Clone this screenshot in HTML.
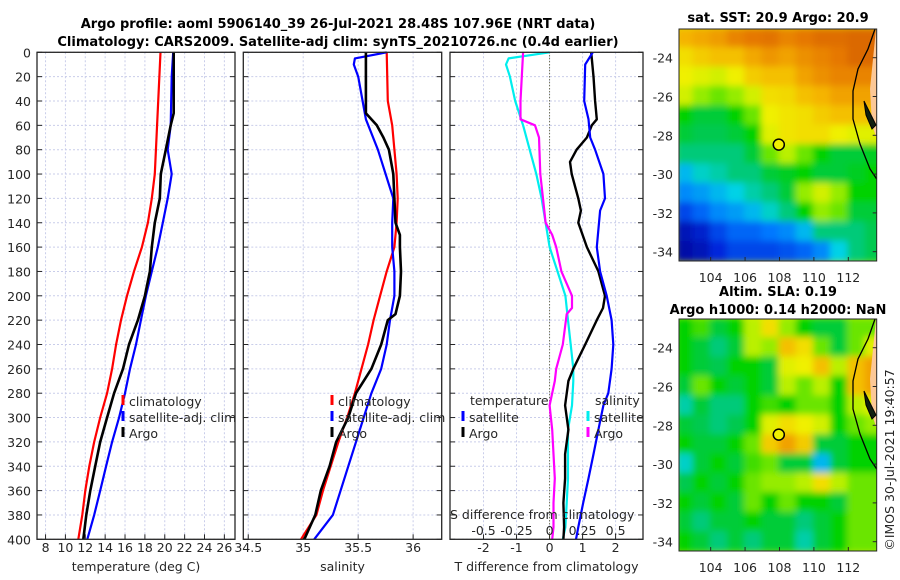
<!DOCTYPE html>
<html><head><meta charset="utf-8">
<style>
html,body{margin:0;padding:0;background:#fff;}
svg{display:block;font-family:"DejaVu Sans","Liberation Sans",sans-serif;}
.tk{font-size:12.5px;fill:#262626;}
.ttl{font-size:13px;font-weight:bold;fill:#000;}
.lg{font-size:12.5px;fill:#262626;}
</style></head>
<body>
<svg id="fig" width="900" height="580" viewBox="0 0 900 580">
<defs>
<filter id="blur" x="-5%" y="-5%" width="110%" height="110%"><feGaussianBlur stdDeviation="3.5"/></filter>
<clipPath id="clipM1"><rect x="679" y="29" width="198" height="232"/></clipPath>
<clipPath id="clipM2"><rect x="679" y="319" width="198" height="232"/></clipPath>
</defs>
<text class="ttl" x="338" y="28" text-anchor="middle">Argo profile: aoml 5906140_39 26-Jul-2021 28.48S 107.96E (NRT data)</text>
<text class="ttl" x="338" y="46" text-anchor="middle">Climatology: CARS2009. Satellite-adj clim: synTS_20210726.nc (0.4d earlier)</text>
<text class="ttl" x="778" y="22" text-anchor="middle">sat. SST: 20.9 Argo: 20.9</text>
<text class="ttl" x="778" y="296" text-anchor="middle">Altim. SLA: 0.19</text>
<text class="ttl" x="778" y="314" text-anchor="middle">Argo h1000: 0.14 h2000: NaN</text>
<text class="tk" transform="translate(894,460) rotate(-90)" text-anchor="middle">©IMOS 30-Jul-2021 19:40:57</text>
<g id="g"></g>
</svg>
<script>
// ---- depth axis ----
const depthTicks = [0,20,40,60,80,100,120,140,160,180,200,220,240,260,280,300,320,340,360,380,400];
// ---- temperature panel ----
const tempTicks = [8,10,12,14,16,18,20,22,24,26];
const tClimDepth = [0,100,120,140,160,180,200,220,240,260,280,300,320,340,360,380,400];
const tClim = [19.57,19.0,18.7,18.3,17.7,16.9,16.2,15.6,15.1,14.7,14.2,13.5,12.9,12.4,12.0,11.7,11.3];
const tSatDepth = [0,20,60,80,100,120,140,160,180,200,220,240,260,280,300,320,340,360,380,400];
const tSat = [20.85,20.7,20.6,20.3,20.7,20.3,19.8,19.3,18.7,18.1,17.6,17.1,16.5,16.0,15.4,14.7,14.1,13.5,12.9,12.2];
const tArgoDepth = [0,20,50,60,80,100,120,140,160,180,200,220,240,260,280,300,320,340,360,380,400];
const tArgo = [20.9,20.9,20.9,20.6,20.1,19.6,19.5,19.0,18.7,18.5,18.0,17.3,16.4,15.8,14.9,14.2,13.5,13.0,12.5,12.1,11.8];
// ---- salinity panel ----
const salTicks = [34.5,35,35.5,36];
const salTickLabels = ["34.5","35","35.5","36"];
const sClimDepth = [0,40,60,80,100,120,140,160,180,200,220,240,260,280,300,320,340,360,380,400];
const sClim = [35.76,35.77,35.81,35.83,35.85,35.86,35.85,35.83,35.76,35.70,35.64,35.59,35.53,35.47,35.40,35.32,35.25,35.18,35.12,34.98];
const sSatDepth = [0,5,10,20,40,55,80,100,120,140,160,180,200,220,240,260,280,300,320,340,360,380,400];
const sSat = [35.76,35.47,35.46,35.50,35.54,35.57,35.68,35.75,35.82,35.81,35.81,35.83,35.83,35.79,35.76,35.71,35.62,35.55,35.48,35.41,35.34,35.27,35.10];
const sArgoDepth = [0,20,50,60,70,80,100,120,140,150,160,180,200,215,220,240,260,280,300,320,340,360,380,400];
const sArgo = [35.57,35.57,35.57,35.67,35.73,35.78,35.82,35.83,35.84,35.88,35.88,35.89,35.88,35.84,35.77,35.71,35.62,35.48,35.41,35.30,35.24,35.16,35.11,35.01];
// ---- difference panel ----
const tDiffTicks = [-2,-1,0,1,2];
const sDiffTicks = [-0.5,-0.25,0,0.25,0.5];
const sDiffTickLabels = ["-0.5","-0.25","0","0.25","0.5"];
const dTSatDepth = [0,10,40,55,70,80,100,120,130,160,180,200,220,240,260,280,290,310,330,350,370,390,400];
const dTSat = [1.31,1.08,1.05,1.18,1.23,1.38,1.63,1.68,1.53,1.43,1.53,1.73,1.88,1.93,1.88,1.78,1.63,1.48,1.33,1.18,1.02,0.87,0.80];
const dTArgoDepth = [0,20,40,55,60,70,80,90,100,120,130,140,160,180,200,210,220,240,260,270,290,310,330,350,370,390,400];
const dTArgo = [1.26,1.33,1.38,1.43,1.28,1.13,0.82,0.62,0.67,0.87,0.95,0.87,1.13,1.48,1.68,1.62,1.43,1.08,0.72,0.57,0.47,0.57,0.47,0.47,0.42,0.44,0.42];
const dSSatDepth = [0,5,10,20,40,60,80,100,120,140,160,180,200,220,240,260,270,290,310,330,350,370,390,400];
const dSSat = [0,-0.31,-0.33,-0.30,-0.26,-0.20,-0.15,-0.10,-0.06,-0.03,0.0,0.06,0.12,0.14,0.16,0.18,0.18,0.17,0.14,0.14,0.14,0.13,0.12,0.10];
const dSArgoDepth = [0,20,40,55,60,70,100,120,140,150,160,180,200,210,215,240,260,270,290,310,330,350,370,390,400];
const dSArgo = [-0.20,-0.21,-0.22,-0.22,-0.11,-0.08,-0.07,-0.05,-0.03,0.02,0.05,0.09,0.17,0.17,0.13,0.10,0.05,0.04,0.0,0.02,0.03,0.04,0.03,0.03,0.02];
// ---- maps ----
const mapLonTicks = [104,106,108,110,112];
const mapLatTicks = [-24,-26,-28,-30,-32,-34];
const gridLon = [102.5,103.5,104.5,105.5,106.5,107.5,108.5,109.5,110.5,111.5,112.5,113.5];
const gridLat = [-23,-24,-25,-26,-27,-28,-29,-30,-31,-32,-33,-34];
const sstGrid = [
[0.82,0.84,0.86,0.90,0.92,0.93,0.90,0.92,0.94,0.94,0.95,0.95],
[0.75,0.78,0.80,0.80,0.84,0.87,0.85,0.88,0.90,0.92,0.95,0.95],
[0.72,0.70,0.68,0.72,0.78,0.80,0.80,0.85,0.88,0.90,0.90,0.90],
[0.68,0.62,0.60,0.62,0.68,0.75,0.76,0.80,0.82,0.85,0.85,0.85],
[0.55,0.50,0.50,0.55,0.60,0.72,0.74,0.75,0.78,0.80,0.80,0.80],
[0.50,0.48,0.48,0.50,0.55,0.70,0.74,0.75,0.75,0.72,0.70,0.70],
[0.45,0.45,0.45,0.45,0.50,0.60,0.65,0.60,0.55,0.50,0.50,0.52],
[0.35,0.40,0.42,0.45,0.45,0.50,0.52,0.55,0.50,0.50,0.52,0.55],
[0.30,0.32,0.35,0.38,0.42,0.45,0.50,0.62,0.68,0.62,0.55,0.55],
[0.20,0.25,0.30,0.32,0.35,0.40,0.45,0.55,0.62,0.60,0.50,0.50],
[0.08,0.12,0.20,0.25,0.25,0.28,0.30,0.35,0.45,0.45,0.45,0.48],
[0.05,0.08,0.15,0.20,0.20,0.20,0.22,0.25,0.30,0.38,0.45,0.48]];
const slaGrid = [
[0.55,0.58,0.50,0.55,0.65,0.75,0.62,0.55,0.50,0.50,0.60,0.60],
[0.55,0.50,0.45,0.50,0.65,0.62,0.80,0.75,0.60,0.50,0.60,0.70],
[0.55,0.50,0.48,0.55,0.55,0.50,0.70,0.72,0.80,0.65,0.80,0.85],
[0.50,0.60,0.55,0.50,0.55,0.50,0.65,0.60,0.65,0.55,0.80,0.85],
[0.42,0.50,0.45,0.45,0.55,0.58,0.55,0.60,0.60,0.55,0.65,0.70],
[0.50,0.48,0.45,0.48,0.55,0.70,0.75,0.72,0.68,0.55,0.60,0.62],
[0.55,0.50,0.50,0.55,0.60,0.78,0.85,0.78,0.50,0.50,0.55,0.55],
[0.40,0.50,0.55,0.50,0.58,0.60,0.50,0.50,0.35,0.50,0.55,0.55],
[0.48,0.55,0.50,0.55,0.60,0.62,0.62,0.65,0.75,0.65,0.60,0.60],
[0.55,0.50,0.55,0.50,0.60,0.55,0.60,0.55,0.55,0.50,0.60,0.60],
[0.50,0.45,0.50,0.50,0.55,0.50,0.50,0.45,0.50,0.55,0.60,0.60],
[0.55,0.50,0.45,0.50,0.45,0.50,0.50,0.42,0.50,0.55,0.60,0.60]];
const argoLon = [107.96];
const argoLat = [-28.48];

const NS='http://www.w3.org/2000/svg';
const G=document.getElementById('g');
function mk(tag,attrs,parent){const e=document.createElementNS(NS,tag);for(const k in attrs)e.setAttribute(k,attrs[k]);(parent||G).appendChild(e);return e;}
function txt(s,x,y,cls,anchor,parent){const e=mk('text',{x:x,y:y,class:cls,'text-anchor':anchor||'middle'},parent);e.textContent=s;return e;}

const Y0=52.3,Y1=539.3;
const yD=d=>Y0+(d/400)*(Y1-Y0);

function panel(name,x0,x1,xmin,xmax,ticks,labels,xlabel,labY){
  const sx=v=>x0+(v-xmin)/(xmax-xmin)*(x1-x0);
  const g=mk('g',{});
  
  
  depthTicks.forEach(d=>{mk('line',{x1:x0,x2:x1,y1:yD(d),y2:yD(d),stroke:'#c9cdea','stroke-width':1,'stroke-dasharray':'2,2'},g);});
  ticks.forEach(t=>{mk('line',{x1:sx(t),x2:sx(t),y1:Y0,y2:Y1,stroke:'#c9cdea','stroke-width':1,'stroke-dasharray':'2,2'},g);});
  depthTicks.forEach(d=>{mk('line',{x1:x0,x2:x0+5,y1:yD(d),y2:yD(d),stroke:'#262626'},g);mk('line',{x1:x1,x2:x1-5,y1:yD(d),y2:yD(d),stroke:'#262626'},g);});
  ticks.forEach((t,i)=>{
    mk('line',{x1:sx(t),x2:sx(t),y1:Y1,y2:Y1-5,stroke:'#262626'},g);
    if(labels){const e=txt(labels[i],sx(t),labY,'tk','middle',g);}
  });
  if(xlabel){const e=txt(xlabel,(x0+x1)/2,571,'tk','middle',g);}
  return {sx,g};
}
function line(p,depths,vals,color,w,name){
  const pts=depths.map((d,i)=>p.sx(vals[i]).toFixed(1)+','+yD(d).toFixed(1)).join(' ');
  const e=mk('polyline',{points:pts,fill:'none',stroke:color,'stroke-width':w,'stroke-linejoin':'round'},p.g);
  
  
  return e;
}
function frame(x0,x1,g){mk('rect',{x:x0,y:Y0,width:x1-x0,height:Y1-Y0,fill:'none',stroke:'#262626','stroke-width':1.3},g);}
function legendItem(g,x,y,color,label,name){
  mk('line',{x1:x,x2:x,y1:y-7,y2:y+3,stroke:color,'stroke-width':3},g);
  const e=txt(label,x+6,y+4,'lg','start',g);
  
  
}

depthTicks.forEach(d=>{const e=txt(String(d),31,yD(d)+5,'tk','end');});

// Panel 1
const p1=panel('temperature',37,235,7.14,27.07,tempTicks,tempTicks.map(String),'temperature (deg C)',552);
line(p1,tClimDepth,tClim,'#ff0000',2.2,'temperature-climatology-line');
line(p1,tSatDepth,tSat,'#0000ff',2.2,'temperature-satellite-line');
line(p1,tArgoDepth,tArgo,'#000000',2.6,'temperature-argo-line');
frame(37,235,p1.g);
legendItem(p1.g,123,402,'#ff0000','climatology','legend-climatology');
legendItem(p1.g,123,418,'#0000ff','satellite-adj. clim','legend-satellite');
legendItem(p1.g,123,434,'#000000','Argo','legend-argo');

// Panel 2
const p2=panel('salinity',243.3,441.7,34.455,36.26,salTicks,salTickLabels,'salinity',552);
line(p2,sClimDepth,sClim,'#ff0000',2.2,'salinity-climatology-line');
line(p2,sSatDepth,sSat,'#0000ff',2.2,'salinity-satellite-line');
line(p2,sArgoDepth,sArgo,'#000000',2.6,'salinity-argo-line');
frame(243.3,441.7,p2.g);
legendItem(p2.g,332,402,'#ff0000','climatology','legend-climatology');
legendItem(p2.g,332,418,'#0000ff','satellite-adj. clim','legend-satellite');
legendItem(p2.g,332,434,'#000000','Argo','legend-argo');

// Panel 3
const p3=panel('difference',450,643,-3.015,2.83,tDiffTicks,tDiffTicks.map(String),'T difference from climatology',552);
const p3s={sx:v=>p3.sx(v*4),g:p3.g};
mk('line',{x1:p3.sx(0),x2:p3.sx(0),y1:Y0,y2:Y1,stroke:'#4d4d20','stroke-width':1,'stroke-dasharray':'1,2'},p3.g);
line(p3s,dSSatDepth,dSSat,'#00eeee',2.2,'salinity-diff-satellite-line');
line(p3s,dSArgoDepth,dSArgo,'#ff00ff',2.2,'salinity-diff-argo-line');
line(p3,dTArgoDepth,dTArgo,'#000000',2.4,'temperature-diff-argo-line');
line(p3,dTSatDepth,dTSat,'#0000ff',2.2,'temperature-diff-satellite-line');
frame(450,643,p3.g);
sDiffTicks.forEach((t,i)=>{const e=txt(sDiffTickLabels[i],p3s.sx(t),535,'tk','middle',p3.g);});
{const e=txt('S difference from climatology',450,519,'tk','start',p3.g);}
{const e=txt('temperature',470,405,'lg','start',p3.g);}
{const e=txt('salinity',595,405,'lg','start',p3.g);}
legendItem(p3.g,463,418,'#0000ff','satellite','legend-temp-satellite');
legendItem(p3.g,463,434,'#000000','Argo','legend-temp-argo');
legendItem(p3.g,588,418,'#00eeee','satellite','legend-sal-satellite');
legendItem(p3.g,588,434,'#ff00ff','Argo','legend-sal-argo');

const cmap=[[0,[0,0,140]],[0.15,[0,40,220]],[0.28,[0,120,255]],[0.38,[0,210,230]],[0.47,[0,200,90]],[0.55,[0,210,0]],[0.63,[170,240,0]],[0.72,[240,240,0]],[0.82,[245,180,0]],[0.92,[230,120,0]],[1,[200,80,0]]];
function col(v){for(let i=1;i<cmap.length;i++){if(v<=cmap[i][0]){const a=cmap[i-1],b=cmap[i];const f=(v-a[0])/(b[0]-a[0]);const c=a[1].map((x,k)=>Math.round(x+(b[1][k]-x)*f));return 'rgb('+c.join(',')+')';}}return 'rgb(200,80,0)';}

function mapPanel(name,top,grid){
  const L=679,R=876.7,lon0=102.16,lon1=113.65,lat0=-22.52,lat1=-34.48,bot=top+232;
  const sx=lon=>L+(lon-lon0)/(lon1-lon0)*(R-L);
  const sy=lat=>top+(lat-lat0)/(lat1-lat0)*(bot-top);
  const g=mk('g',{});
  
  
  const inner=mk('g',{'clip-path':'url(#'+(top<100?'clipM1':'clipM2')+')'},g);
  mk('rect',{x:L,y:top,width:R-L,height:bot-top,fill:col(grid[5][5])},inner);
  const cells=mk('g',{filter:'url(#blur)'},inner);
  gridLat.forEach((la,r)=>gridLon.forEach((lo,c)=>{
    const e=mk('rect',{x:sx(lo-0.5)-1,y:sy(la+0.5)-1,width:sx(1)-sx(0)+2,height:sy(-1)-sy(0)+2,fill:col(grid[r][c])},cells);
    
    
  }));
  mk('path',{d:`M${R} ${top} L876 ${top} L873 ${top+30} L870 ${top+60} L872 ${top+95} L${R} ${top+110} Z`,fill:'#fcc896'},inner);
  const coast=mk('path',{d:`M875 ${top} L868 ${top+20} L858 ${top+40} L853 ${top+62} L853 ${top+90} L860 ${top+115} L870 ${top+140} L${R} ${top+150}`,fill:'none',stroke:'#000','stroke-width':1.3},inner);
  
  
  const isl=mk('path',{d:`M864 ${top+72} L870 ${top+84} L876 ${top+96} L872 ${top+100} L866 ${top+86} Z`,fill:'#102010',stroke:'#000','stroke-width':1},inner);
  
  
  mk('rect',{x:L,y:top,width:R-L,height:bot-top,fill:'none',stroke:'#262626','stroke-width':1},g);
  mapLonTicks.forEach(t=>{const e=txt(String(t),sx(t),bot+21,'tk','middle',g);mk('line',{x1:sx(t),x2:sx(t),y1:bot,y2:bot-4,stroke:'#262626'},g);});
  mapLatTicks.forEach(t=>{const e=txt(String(t),L-6,sy(t)+5,'tk','end',g);mk('line',{x1:R,x2:R-4,y1:sy(t),y2:sy(t),stroke:'#262626'},g);});
  const m=mk('circle',{cx:sx(argoLon[0]),cy:sy(argoLat[0]),r:5.5,fill:'#f0f000',stroke:'#000','stroke-width':1.5},g);
  
  
}
mapPanel('sst-map',29,sstGrid);
mapPanel('sla-map',319,slaGrid);
</script>
</body></html>
